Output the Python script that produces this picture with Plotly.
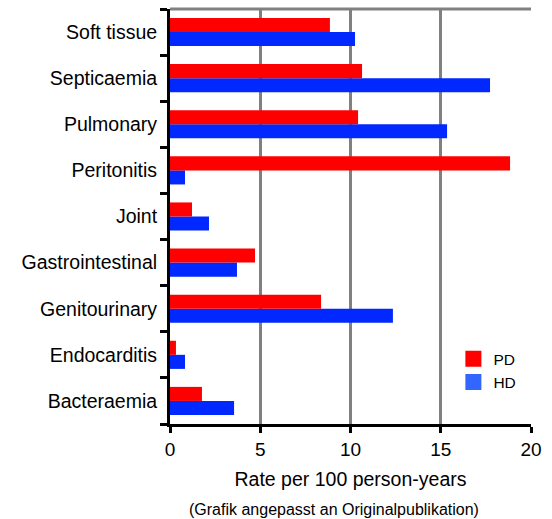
import plotly.graph_objects as go

categories = ["Bacteraemia", "Endocarditis", "Genitourinary", "Gastrointestinal",
              "Joint", "Peritonitis", "Pulmonary", "Septicaemia", "Soft tissue"]
pd_values = [1.77, 0.33, 8.37, 4.71, 1.22, 18.84, 10.42, 10.64, 8.86]
hd_values = [3.55, 0.83, 12.35, 3.71, 2.16, 0.83, 15.35, 17.73, 10.25]
x_ticks = [0, 5, 10, 15, 20]

FONT = "Liberation Sans, Arial, Helvetica, sans-serif"

fig = go.Figure()
fig.add_trace(go.Bar(y=categories, x=hd_values, name="HD", orientation="h",
                     marker=dict(color="#0028FF", line=dict(width=0)), showlegend=False))
fig.add_trace(go.Bar(y=categories, x=pd_values, name="PD", orientation="h",
                     marker=dict(color="#FF0000", line=dict(width=0)), showlegend=False))
# legend entries (swatches)
fig.add_trace(go.Scatter(x=[None], y=[None], mode="markers", name="PD", legendrank=1,
                         marker=dict(symbol="square", size=16, color="#FF0000")))
fig.add_trace(go.Scatter(x=[None], y=[None], mode="markers", name="HD", legendrank=2,
                         marker=dict(symbol="square", size=16, color="#3366FF")))

fig.update_layout(
    width=552, height=519,
    margin=dict(l=170, r=21, t=9, b=95),
    plot_bgcolor="white", paper_bgcolor="white",
    barmode="group", bargap=0.39, bargroupgap=0,
    font=dict(family=FONT, size=19, color="black"),
    showlegend=True,
    legend=dict(x=0.785, y=0.197, xanchor="left", yanchor="top",
                bgcolor="rgba(0,0,0,0)", font=dict(size=15.5),
                traceorder="normal", itemsizing="trace"),
    xaxis=dict(range=[0, 20], tickvals=x_ticks, showgrid=True, gridcolor="#808080",
               gridwidth=3, showline=True, linecolor="black", linewidth=3,
               ticks="outside", ticklen=6, tickwidth=3, tickcolor="black",
               zeroline=False,
               title=dict(text="Rate per 100 person-years", standoff=14, font=dict(size=19.5)),
               fixedrange=True),
    yaxis=dict(type="category", categoryorder="array", categoryarray=categories,
               showgrid=False, showline=True, linecolor="black", linewidth=3,
               ticks="outside", ticklen=7, tickwidth=3, tickcolor="black",
               tickson="boundaries", ticklabelstandoff=6, tickfont=dict(size=19.5),
               fixedrange=True),
    shapes=[dict(type="line", xref="paper", yref="paper", x0=0, x1=1, y0=1, y1=1,
                 line=dict(color="#808080", width=3))],
    annotations=[dict(text="(Grafik angepasst an Originalpublikation)", xref="paper",
                      yref="paper", x=0.455, y=-0.207, xanchor="center", yanchor="middle",
                      showarrow=False, font=dict(size=16))],
)

fig.write_html("out.html", post_script="document.body.style.margin='0px';",
               config={"displayModeBar": False})
